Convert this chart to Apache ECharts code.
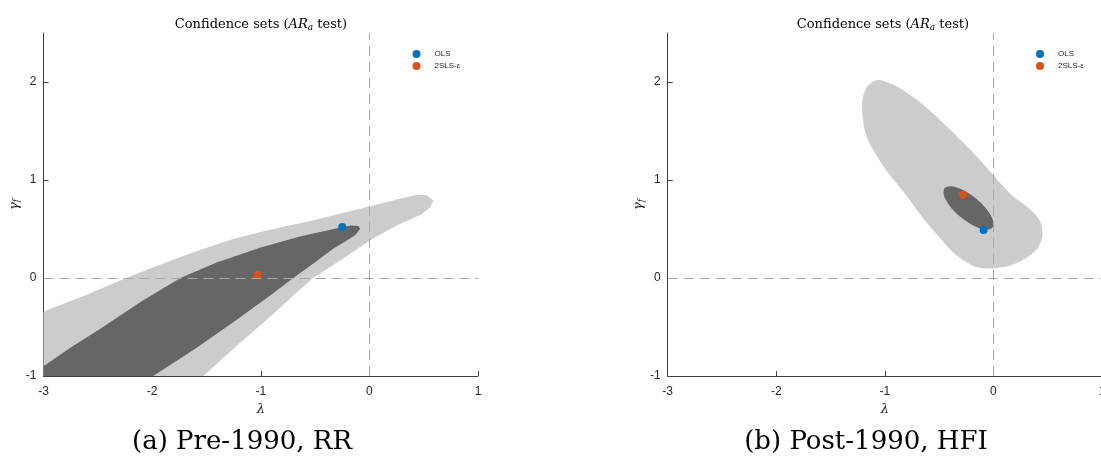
<!DOCTYPE html>
<html>
<head>
<meta charset="utf-8">
<script src="https://cdn.jsdelivr.net/npm/echarts@6/dist/echarts.min.js"></script>
<style>
html,body{margin:0;padding:0;background:#fff;}
#chart{width:1101px;height:460px;}
</style>
</head>
<body>
<div id="chart"></div>
<script>
// ---- data ----
const xTicks = [-3, -2, -1, 0, 1];
const yTicks = [-1, 0, 1, 2];
const xRange = [-3, 1];
const yRange = [-1, 2.5];
const refX = 0;
const refY = 0;
const seriesNames = ['OLS', '2SLS-ε'];

// Panel (a) Pre-1990, RR
const olsA = [[-0.25, 0.52]];
const tslsA = [[-1.03, 0.03]];
const lightA = [
  [-3, -0.345], [-2.8, -0.255], [-2.6, -0.17], [-2.42, -0.085], [-2.24, 0], [-2.0, 0.105],
  [-1.8, 0.19], [-1.52, 0.30], [-1.25, 0.40], [-1.0, 0.47], [-0.8, 0.52], [-0.55, 0.58],
  [-0.33, 0.64], [0, 0.73], [0.25, 0.80], [0.44, 0.85], [0.53, 0.845], [0.59, 0.79],
  [0.56, 0.72], [0.48, 0.65], [0.38, 0.60], [0.28, 0.55], [0.14, 0.47], [0, 0.38],
  [-0.2, 0.23], [-0.35, 0.12], [-0.52, 0], [-0.72, -0.2], [-0.94, -0.42], [-1.2, -0.67],
  [-1.53, -1], [-3, -1]
];
const darkA = [
  [-3, -0.90], [-2.75, -0.71], [-2.48, -0.52], [-2.1, -0.24], [-1.74, 0], [-1.4, 0.16],
  [-1.0, 0.31], [-0.65, 0.42], [-0.33, 0.50], [-0.17, 0.535], [-0.1, 0.53], [-0.085, 0.50],
  [-0.13, 0.44], [-0.21, 0.38], [-0.33, 0.30], [-0.5, 0.16], [-0.70, 0], [-0.95, -0.21],
  [-1.25, -0.45], [-1.6, -0.72], [-1.99, -1], [-3, -1]
];

// Panel (b) Post-1990, HFI
const olsB = [[-0.09, 0.49]];
const tslsB = [[-0.28, 0.85]];
const lightB = [
  [-1.07, 2.02], [-0.906, 1.965], [-0.77, 1.87], [-0.64, 1.76], [-0.49, 1.61], [-0.34, 1.45],
  [-0.17, 1.26], [-0.01, 1.06], [0.154, 0.86], [0.338, 0.70], [0.43, 0.58], [0.45, 0.42],
  [0.39, 0.28], [0.20, 0.145], [0.016, 0.10], [-0.169, 0.115], [-0.37, 0.26], [-0.50, 0.42],
  [-0.64, 0.60], [-0.80, 0.84], [-1.0, 1.12], [-1.17, 1.45], [-1.21, 1.78], [-1.17, 1.94]
];
const darkB = [
  [-0.009, 0.513], [-0.074, 0.493], [-0.180, 0.532], [-0.300, 0.619], [-0.401, 0.733],
  [-0.456, 0.841], [-0.451, 0.916], [-0.386, 0.936], [-0.280, 0.897], [-0.160, 0.810],
  [-0.059, 0.696], [-0.004, 0.588]
];

// ---- styles ----
const lightColor = '#cccccc';
const darkColor = '#666666';
const blue = '#0072BD';
const orange = '#D95319';
const axisColor = '#404040';
const sans = 'Liberation Sans, Arial, sans-serif';
const serif = 'DejaVu Serif, Liberation Serif, serif';

function polyRender(points, color, smooth) {
  return function (params, api) {
    if (params.dataIndex !== 0) return null;
    const pts = points.map(p => api.coord(p));
    return { type: 'polygon', shape: { points: pts, smooth: smooth }, style: { fill: color } };
  };
}

function xAxisCfg(gridIndex) {
  return {
    type: 'value', gridIndex: gridIndex, min: xRange[0], max: xRange[1], interval: 1,
    name: 'λ', nameLocation: 'middle', nameGap: 16,
    nameTextStyle: { fontFamily: serif, fontStyle: 'italic', fontSize: 13, color: '#262626' },
    axisLine: { show: true, onZero: false, lineStyle: { color: axisColor, width: 1 } },
    axisTick: { show: true, inside: true, length: 5, customValues: xTicks, lineStyle: { color: axisColor } },
    axisLabel: { customValues: xTicks, fontFamily: sans, fontSize: 12, color: '#262626', margin: 10 },
    splitLine: { show: false }
  };
}
function yAxisCfg(gridIndex) {
  return {
    type: 'value', gridIndex: gridIndex, min: yRange[0], max: yRange[1], interval: 1,
    name: '{g|γ}{f|f}', nameLocation: 'middle', nameGap: 22,
    nameTextStyle: {
      color: '#262626',
      rich: {
        g: { fontFamily: serif, fontStyle: 'italic', fontSize: 13, color: '#262626' },
        f: { fontFamily: serif, fontStyle: 'italic', fontSize: 9, color: '#262626', padding: [5, 0, 0, 0] }
      }
    },
    axisLine: { show: true, onZero: false, lineStyle: { color: axisColor, width: 1 } },
    axisTick: { show: true, inside: true, length: 5, customValues: yTicks, lineStyle: { color: axisColor } },
    axisLabel: { customValues: yTicks, fontFamily: sans, fontSize: 12, color: '#262626', margin: 7 },
    splitLine: { show: false }
  };
}

function panelSeries(idx, light, dark, smooth, ols, tsls) {
  return [
    { type: 'custom', name: 'light' + idx, xAxisIndex: idx, yAxisIndex: idx, z: 1, silent: true,
      data: light, encode: { x: 0, y: 1 }, renderItem: polyRender(light, lightColor, smooth) },
    { type: 'custom', name: 'dark' + idx, xAxisIndex: idx, yAxisIndex: idx, z: 2, silent: true,
      data: dark, encode: { x: 0, y: 1 }, renderItem: polyRender(dark, darkColor, smooth) },
    { type: 'line', name: 'ref' + idx, xAxisIndex: idx, yAxisIndex: idx, z: 3, data: [], silent: true,
      markLine: {
        silent: true, symbol: 'none', label: { show: false },
        lineStyle: { color: '#a6a6a6', type: [10, 6], width: 1 },
        data: [{ xAxis: refX }, { yAxis: refY }]
      } },
    { type: 'scatter', name: seriesNames[0], xAxisIndex: idx, yAxisIndex: idx, z: 4,
      symbol: 'circle', symbolSize: 8, itemStyle: { color: blue, opacity: 1 }, data: ols },
    { type: 'scatter', name: seriesNames[1], xAxisIndex: idx, yAxisIndex: idx, z: 4,
      symbol: 'circle', symbolSize: 8, itemStyle: { color: orange, opacity: 1 }, data: tsls }
  ];
}

const titleRich = {
  n: { fontFamily: serif, fontSize: 13, fontWeight: 'normal', color: '#000' },
  i: { fontFamily: serif, fontStyle: 'italic', fontWeight: 'normal', fontSize: 13, color: '#000' },
  s: { fontFamily: serif, fontStyle: 'italic', fontWeight: 'normal', fontSize: 9, color: '#000', padding: [6, 0, 0, 0] }
};
const titleText = '{n|Confidence sets (}{i|AR}{s|a}{n| test)}';

function legendCfg(left) {
  return {
    data: seriesNames, left: left, top: 50, orient: 'vertical', padding: 0,
    icon: 'circle', itemWidth: 8, itemHeight: 8, itemGap: 4, selectedMode: false,
    textStyle: { fontFamily: sans, fontSize: 8, color: '#262626', padding: [0, 0, 0, 9] }
  };
}

const chart = echarts.init(document.getElementById('chart'), null, { renderer: 'canvas' });
chart.setOption({
  animation: false,
  backgroundColor: '#fff',
  title: [
    { text: titleText, left: 256, top: 12, textAlign: 'center', textStyle: { fontWeight: 'normal', rich: titleRich } },
    { text: titleText, left: 878, top: 12, textAlign: 'center', textStyle: { fontWeight: 'normal', rich: titleRich } },
    { text: '(a) Pre-1990, RR', left: 237, top: 424, textAlign: 'center',
      textStyle: { fontFamily: serif, fontSize: 26, fontWeight: 'normal', color: '#000' } },
    { text: '(b) Post-1990, HFI', left: 861, top: 424, textAlign: 'center',
      textStyle: { fontFamily: serif, fontSize: 26, fontWeight: 'normal', color: '#000' } }
  ],
  legend: [legendCfg(412.5), legendCfg(1036)],
  grid: [
    { left: 43.5, top: 33, width: 434.5, height: 343, containLabel: false, outerBoundsMode: 'none' },
    { left: 667.7, top: 33, width: 434.3, height: 343, containLabel: false, outerBoundsMode: 'none' }
  ],
  xAxis: [xAxisCfg(0), xAxisCfg(1)],
  yAxis: [yAxisCfg(0), yAxisCfg(1)],
  series: [].concat(
    panelSeries(0, lightA, darkA, 0, olsA, tslsA),
    panelSeries(1, lightB, darkB, 0.3, olsB, tslsB)
  )
});
</script>
</body>
</html>
